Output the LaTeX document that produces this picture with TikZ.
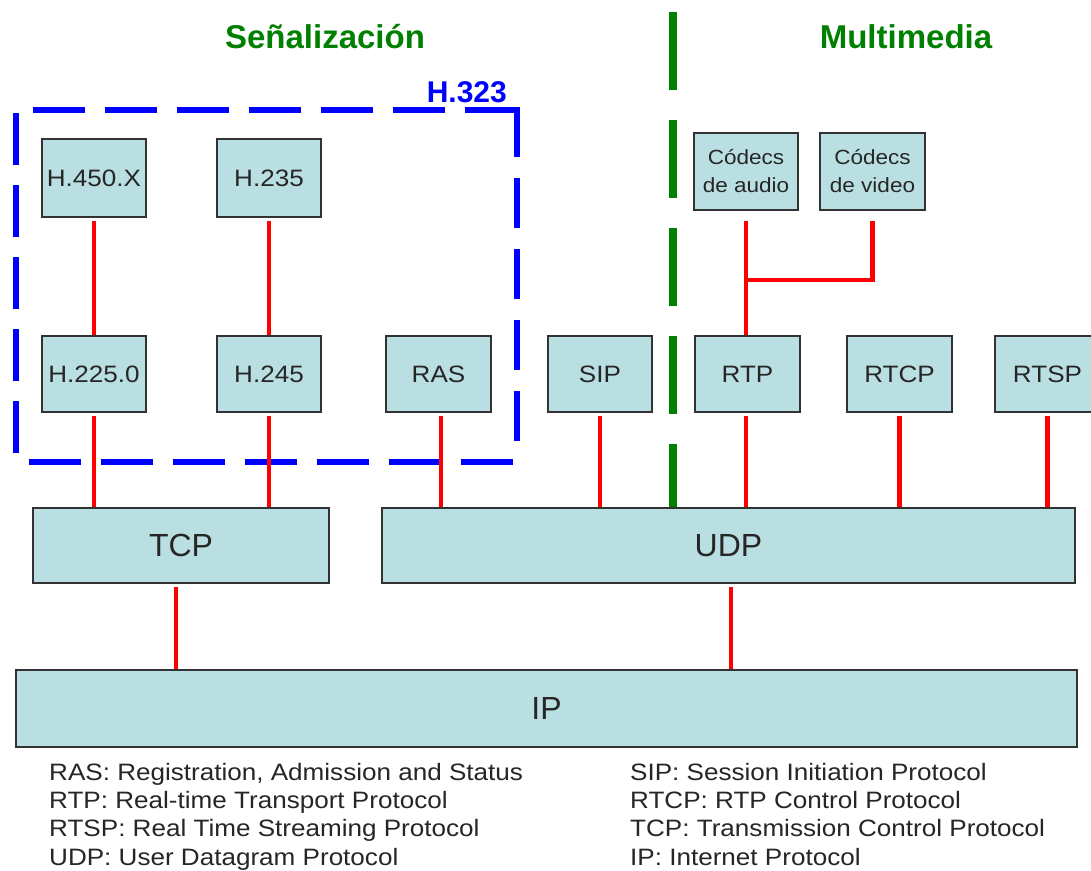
\documentclass[tikz,border=0pt]{standalone}
\usepackage{fontspec}
\setmainfont{Liberation Sans}
\newfontfamily\widefont[FakeStretch=1.1]{Liberation Sans}
\definecolor{boxfill}{RGB}{186,223,226}
\definecolor{boxline}{RGB}{50,50,50}
\definecolor{sigreen}{RGB}{0,128,0}
\begin{document}
\begin{tikzpicture}[x=1pt,y=-1pt,
  box/.style={draw=boxline, line width=2.2pt, fill=boxfill, inner sep=0pt,
    text=black!85, align=center, font=\widefont\fontsize{23.7}{26}\selectfont},
  small/.style={box, minimum width=105pt, minimum height=76pt},
  codec/.style={box, minimum width=104pt, minimum height=77pt,
    font=\widefont\fontsize{20.5}{28}\selectfont},
  layer/.style={box, minimum height=75pt, font=\fontsize{32}{34}\selectfont},
  link/.style={red, line width=4.5pt, shorten <=3pt},
  sep/.style={sigreen, line width=8pt, dash pattern=on 78pt off 30pt},
  grp/.style={blue, line width=6pt, dash pattern=on 52pt off 20pt},
  title/.style={anchor=base, text=sigreen, inner sep=0pt,
    font=\bfseries\fontsize{33}{33}\selectfont},
  leg/.style={anchor=base west, inner sep=0pt, text=black!85,
    font=\widefont\fontsize{23.7}{26}\selectfont}]
\useasboundingbox (0,0) rectangle (1091,870);
\clip (0,0) rectangle (1091,870);
\fill[white] (0,0) rectangle (1091,870);

% titles
\node[title] (tsen) at (325,48) {Señalización};
\node[title] (tmul) at (906,48) {Multimedia};

% H.323 group frame
\draw[grp] (517,110) -- (17,110);
\draw[grp, dash pattern=on 50pt off 21pt] (517,107) -- (517,450);
\draw[grp] (15.5,453) -- (15.5,110);
\draw[grp] (513,462) -- (27,462);
\node[anchor=base east, text=blue, inner sep=0pt,
  font=\bfseries\fontsize{30}{30}\selectfont] (h323) at (507,102) {H.323};

% boxes, upper row
\node[small, minimum width=104pt, minimum height=78pt] (h450) at (94,178) {H.450.X};
\node[small, minimum width=104pt, minimum height=78pt] (h235) at (269,178) {H.235};
\node[codec] (audio) at (746,171.5) {Códecs\\de audio};
\node[codec, minimum width=105pt] (video) at (872.5,171.5) {Códecs\\de video};

% boxes, middle row
\node[small, minimum width=104pt] (h2250) at (94,374) {H.225.0};
\node[small, minimum width=104pt] (h245) at (269,374) {H.245};
\node[small] (ras) at (438.5,374) {RAS};
\node[small, minimum width=104pt] (sip) at (600,374) {SIP};
\node[small] (rtp) at (747.5,374) {RTP};
\node[small] (rtcp) at (899.5,374) {RTCP};
\node[small] (rtsp) at (1047.5,374) {RTSP};

% transport and network layers
\node[layer, minimum width=296pt] (tcp) at (181,545.5) {TCP};
\node[layer, minimum width=693pt] (udp) at (728.5,545.5) {UDP};
\node[layer, minimum width=1061pt, minimum height=77pt] (ip) at (546.5,708.5) {IP};

% separator
\coordinate (gtop) at (673,12);
\draw[sep] (gtop) -- (gtop |- udp.north);

% connectors
\draw[link] (h450) -- (h2250);
\draw[link] (h235) -- (h245);
\draw[link] (h2250.south) -- (h2250.south |- tcp.north);
\draw[link] (h245.south) -- (h245.south |- tcp.north);
\draw[link] ([xshift=2.5pt]ras.south) -- ([xshift=2.5pt]ras.south |- udp.north);
\draw[link] (sip.south) -- (sip.south |- udp.north);
\draw[link] ([xshift=-1.5pt]rtp.south) -- ([xshift=-1.5pt]rtp.south |- udp.north);
\draw[link] (rtcp.south) -- (rtcp.south |- udp.north);
\draw[link] (rtsp.south) -- (rtsp.south |- udp.north);
\draw[link] ([xshift=-5pt]tcp.south) -- ([xshift=-5pt]tcp.south |- ip.north);
\draw[link] ([xshift=2.5pt]udp.south) -- ([xshift=2.5pt]udp.south |- ip.north);
\coordinate (jy) at (0,280);
\coordinate (j) at (audio.south |- jy);
\draw[link, shorten <=10pt] (audio.south) -- (audio.south |- rtp.north);
\draw[link, shorten <=10pt] (video.south) |- (j);

% legend
\node[leg] (l1) at (49,780) {RAS: Registration, Admission and Status};
\node[leg] (l2) at (49,808.3) {RTP: Real-time Transport Protocol};
\node[leg] (l3) at (49,836.6) {RTSP: Real Time Streaming Protocol};
\node[leg] (l4) at (49,865) {UDP: User Datagram Protocol};
\node[leg] (r1) at (630,780) {SIP: Session Initiation Protocol};
\node[leg] (r2) at (630,808.3) {RTCP: RTP Control Protocol};
\node[leg] (r3) at (630,836.6) {TCP: Transmission Control Protocol};
\node[leg] (r4) at (630,865) {IP: Internet Protocol};
\end{tikzpicture}
\end{document}
